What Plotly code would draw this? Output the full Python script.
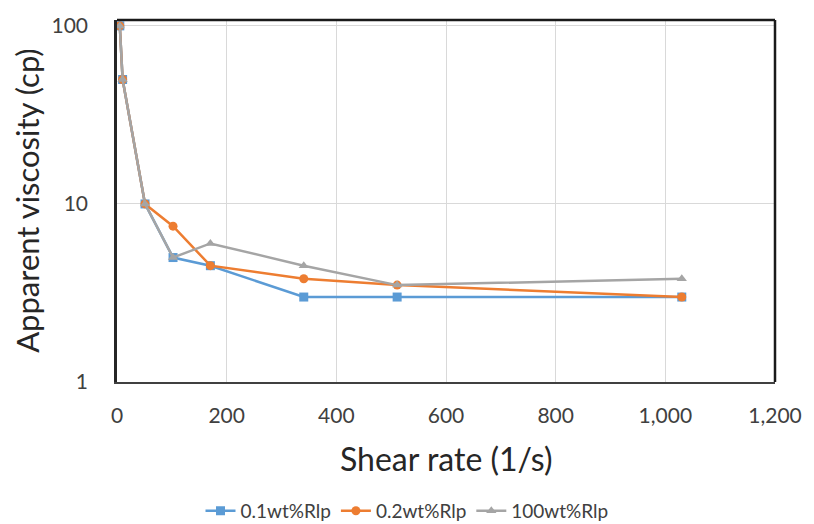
import plotly.graph_objects as go

shear_rate = [5.11, 10.22, 51.1, 102.2, 170.3, 340.6, 510.9, 1030]
visc_01 = [100, 50, 10, 5, 4.5, 3, 3, 3]
visc_02 = [100, 50, 10, 7.5, 4.5, 3.8, 3.5, 3]
visc_100 = [100, 50, 10, 5, 6, 4.5, 3.5, 3.8]
series_names = ["0.1wt%Rlp", "0.2wt%Rlp", "100wt%Rlp"]
x_ticks = [0, 200, 400, 600, 800, 1000, 1200]
y_ticks = [1, 10, 100]

colors = ["#5B9BD5", "#ED7D31", "#A5A5A5"]
symbols = ["square", "circle", "triangle-up"]
font_fam = "Lato, 'Open Sans', sans-serif"

fig = go.Figure()
for name, vals, c, s in zip(series_names, [visc_01, visc_02, visc_100], colors, symbols):
    fig.add_trace(go.Scatter(
        x=shear_rate, y=vals, name=name, mode="lines+markers",
        line=dict(color=c, width=2.5),
        marker=dict(color=c, symbol=s, size=9),
    ))

fig.update_layout(
    width=814, height=524,
    margin=dict(l=117, r=37, t=14, b=142),
    paper_bgcolor="white", plot_bgcolor="white",
    font=dict(family=font_fam, color="#404040"),
    showlegend=True,
    legend=dict(orientation="h", xref="container", yref="container",
                x=0.5, xanchor="center", y=0.025, yanchor="middle",
                font=dict(size=19, color="#404040"), itemwidth=30,
                traceorder="normal"),
    xaxis=dict(range=[0, 1200], tickvals=x_ticks, tickformat=",d",
               showgrid=True, gridcolor="#D9D9D9", gridwidth=1,
               zeroline=False, showline=True, linecolor="#404040", linewidth=2,
               mirror=False, ticks="", tickfont=dict(size=21, color="#404040"),
               ticklabelstandoff=14),
    yaxis=dict(type="log", range=[0, 2.033], tickvals=y_ticks,
               ticktext=[str(v) for v in y_ticks],
               showgrid=True, gridcolor="#D9D9D9", gridwidth=1,
               zeroline=False, showline=True, linecolor="#262626", linewidth=2.5,
               ticks="", tickfont=dict(size=21, color="#404040"),
               ticklabelstandoff=22),
    shapes=[
        dict(type="line", xref="paper", yref="paper", x0=0, x1=1, y0=1, y1=1,
             line=dict(color="#1a1a1a", width=2.5)),
        dict(type="line", xref="paper", yref="paper", x0=1, x1=1, y0=0, y1=1,
             line=dict(color="#1a1a1a", width=2.5)),
    ],
    annotations=[
        dict(text="Apparent viscosity (cp)", xref="paper", yref="paper",
             x=-0.137, y=0.5, xanchor="center", yanchor="middle", textangle=-90,
             showarrow=False, font=dict(size=31, color="#262626")),
        dict(text="Shear rate (1/s)", xref="paper", yref="paper",
             x=0.5, y=-0.21, xanchor="center", yanchor="middle",
             showarrow=False, font=dict(size=32, color="#262626")),
    ],
)

fig.write_html("out.html")
